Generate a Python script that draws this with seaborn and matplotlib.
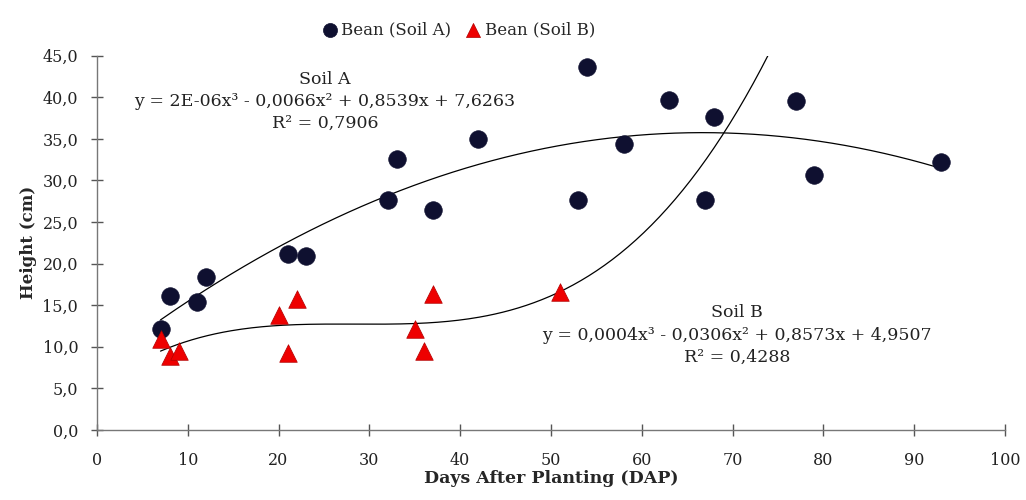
import numpy as np
import pandas as pd
import matplotlib
matplotlib.use("Agg")
import matplotlib.pyplot as plt
import seaborn as sns

# 数据
dap_a = [7, 8, 11, 12, 21, 23, 32, 33, 37, 42, 53, 54, 58, 63, 67, 68, 77, 79, 93]
height_a = [12.1, 16.1, 15.4, 18.4, 21.2, 20.9, 27.6, 32.6, 26.5, 35.0, 27.6, 43.6,
            34.4, 39.7, 27.6, 37.6, 39.5, 30.6, 32.2]

dap_b = [7, 8, 9, 20, 21, 22, 35, 36, 37, 51]
height_b = [11.0, 8.9, 9.5, 13.8, 9.2, 15.7, 12.2, 9.5, 16.4, 16.6]

eq_a = "Soil A\ny = 2E-06x³ - 0,0066x² + 0,8539x + 7,6263\nR² = 0,7906"
eq_b = "Soil B\ny = 0,0004x³ - 0,0306x² + 0,8573x + 4,9507\nR² = 0,4288"

x_ticks = list(range(0, 101, 10))
y_ticks = [0, 5, 10, 15, 20, 25, 30, 35, 40, 45]

sns.set_theme(style="white")
plt.rcParams['font.family'] = ['DejaVu Serif']

df_a = pd.DataFrame({"DAP": dap_a, "Height": height_a})
df_b = pd.DataFrame({"DAP": dap_b, "Height": height_b})

fig = plt.figure(figsize=(10.26, 5.0), dpi=100)
ax = fig.add_axes([0.0945, 0.14, 0.885, 0.7486])

# 三次多项式趋势线（最小二乘拟合）
coef_a = np.polyfit(dap_a, height_a, 3)
coef_b = np.polyfit(dap_b, height_b, 3)
xa = np.linspace(min(dap_a), max(dap_a), 300)
xb = np.linspace(min(dap_b), max(dap_a), 300)
ax.plot(xa, np.polyval(coef_a, xa), color="black", lw=0.9, zorder=2)
ax.plot(xb, np.polyval(coef_b, xb), color="black", lw=0.9, zorder=2)

sns.scatterplot(data=df_a, x="DAP", y="Height", ax=ax, marker="o", s=160,
                color="#0f1030", edgecolor="#0f1030", linewidth=0.5,
                label="Bean (Soil A)", zorder=3)
sns.scatterplot(data=df_b, x="DAP", y="Height", ax=ax, marker="^", s=160,
                color="#ee0000", edgecolor="#b00000", linewidth=0.5,
                label="Bean (Soil B)", zorder=3)

ax.set_xlim(0, 100)
ax.set_ylim(0, 45)
ax.set_xticks(x_ticks)
ax.set_yticks(y_ticks)
ax.set_yticklabels([f"{v:.1f}".replace(".", ",") for v in y_ticks])
ax.tick_params(axis="both", bottom=True, left=True, direction="inout", length=9,
               width=1, color="#555555", labelsize=11.5, labelcolor="#222222")
ax.tick_params(axis="x", pad=11)
ax.tick_params(axis="y", pad=9)

for side in ["top", "right"]:
    ax.spines[side].set_visible(False)
for side in ["left", "bottom"]:
    ax.spines[side].set_color("#777777")
    ax.spines[side].set_linewidth(1)

ax.set_xlabel("Days After Planting (DAP)", fontsize=12.5, fontweight="bold", labelpad=1)
ax.set_ylabel("Height (cm)", fontsize=12, fontweight="bold", labelpad=4)

ax.text(25.1, 39.5, eq_a, ha="center", va="center", fontsize=12.5,
        linespacing=1.4, color="#222222")
ax.text(70.5, 11.4, eq_b, ha="center", va="center", fontsize=12.5,
        linespacing=1.4, color="#222222")

ax.legend(loc="center", bbox_to_anchor=(0.398, 1.069), ncol=2, frameon=False,
          fontsize=12, handlelength=1.0, handletextpad=0.2, columnspacing=0.8,
          markerscale=0.8)

fig.savefig("out.png", dpi=100)
